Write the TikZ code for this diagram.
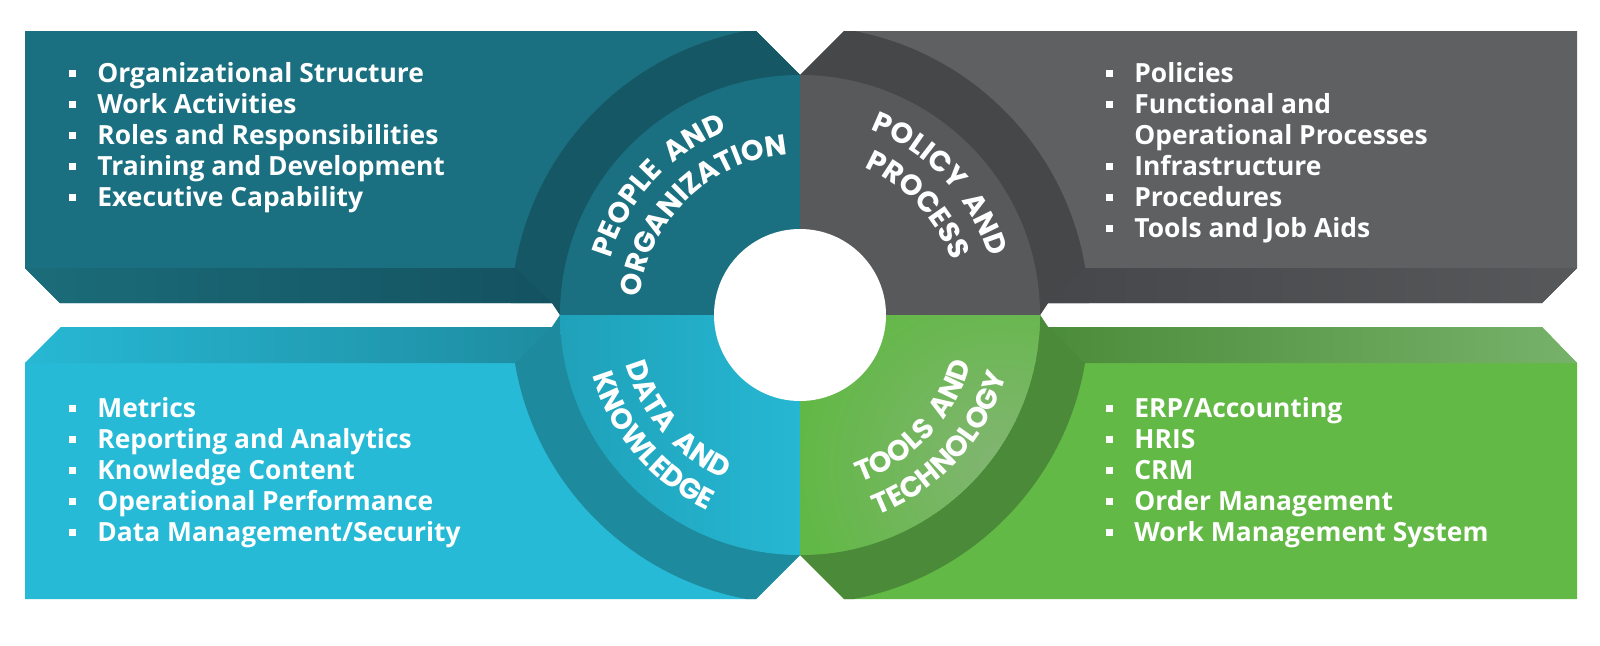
\documentclass[tikz,border=0pt]{standalone}
\usepackage{fontspec}
\usetikzlibrary{decorations.text}
\newfontfamily\listfont{Open Sans}
\newfontfamily\ringfont{Poppins}
\newcommand{\ringsize}{\ringfont\bfseries\fontsize{14.4}{17}\selectfont\fontdimen2\font=0.42em}
\newcommand{\bul}{\makebox[14pt][l]{\rule[2.5pt]{3.3pt}{3.3pt}}}

\definecolor{tealface}{HTML}{1A7080}
\definecolor{tealring}{HTML}{155765}
\definecolor{tealbevL}{HTML}{1B6C7A}
\definecolor{tealbevR}{HTML}{145260}
\definecolor{grayface}{HTML}{5F6062}
\definecolor{grayring}{HTML}{464749}
\definecolor{graydisc}{HTML}{58595B}
\definecolor{graybevL}{HTML}{46474A}
\definecolor{graybevR}{HTML}{57585A}
\definecolor{cyanface}{HTML}{26BAD6}
\definecolor{cyanring}{HTML}{1E8A9E}
\definecolor{cyandiscL}{HTML}{1FA1B9}
\definecolor{cyandiscR}{HTML}{26B7D3}
\definecolor{cyanbevL}{HTML}{27B8D4}
\definecolor{cyanbevR}{HTML}{1E8CA0}
\definecolor{greenface}{HTML}{63B946}
\definecolor{greenring}{HTML}{4A8A39}
\definecolor{greendisc}{HTML}{62B846}
\definecolor{greenhi}{HTML}{82B572}
\definecolor{greenbevL}{HTML}{4B8C3A}
\definecolor{greenbevR}{HTML}{77B26A}

\tikzset{
  listitem/.style={anchor=base west, inner sep=0pt, text=white,
    font=\listfont\bfseries\fontsize{13.2}{16}\selectfont},
  ringtext/.style={decorate, decoration={text along path, text align=center,
    text color=white, text={|\ringsize|#1}}}
}

\begin{document}
\begin{tikzpicture}[x=0.5pt, y=0.5pt]
  \useasboundingbox (0,0) rectangle (1600,645);
  \coordinate (c) at (800,330);

  \begin{scope}
    \clip (25,614) -- (756,614) -- (800,570) -- (800,330) -- (560,330) -- (552,342) -- (60,342) -- (25,377) -- cycle;
    \fill [tealface] (0,0) rectangle (800,645);
    \fill [tealring] (c) circle (289);
    \shade [left color=tealbevL, right color=tealbevR] (25,377) -- (515,377) -- (552,342) -- (60,342) -- cycle;
    \fill [tealface] (c) circle (240);
  \end{scope}

  \begin{scope}
    \clip (844,614) -- (1577,614) -- (1577,377) -- (1542,342) -- (1048,342) -- (1040,330) -- (800,330) -- (800,570) -- cycle;
    \fill [grayface] (800,0) rectangle (1600,645);
    \fill [grayring] (c) circle (289);
    \shade [left color=graybevL, right color=graybevR] (1085,377) -- (1577,377) -- (1542,342) -- (1048,342) -- cycle;
    \fill [graydisc] (c) circle (240);
  \end{scope}

  \begin{scope}
    \clip (25,282) -- (61,318) -- (552,318) -- (560,330) -- (800,330) -- (800,90) -- (756,46) -- (25,46) -- cycle;
    \fill [cyanface] (0,0) rectangle (800,645);
    \fill [cyanring] (c) circle (289);
    \shade [left color=cyanbevL, right color=cyanbevR] (61,318) -- (552,318) -- (515,282) -- (25,282) -- cycle;
    \clip (c) circle (240);
    \shade [left color=cyandiscL, right color=cyandiscR] (560,90) rectangle (800,330);
  \end{scope}

  \begin{scope}
    \clip (800,330) -- (1040,330) -- (1048,318) -- (1542,318) -- (1577,282) -- (1577,46) -- (844,46) -- (800,90) -- cycle;
    \fill [greenface] (800,0) rectangle (1600,645);
    \fill [greenring] (c) circle (289);
    \shade [left color=greenbevL, right color=greenbevR] (1048,318) -- (1542,318) -- (1577,282) -- (1085,282) -- cycle;
    \clip (c) circle (240);
    \fill [greendisc] (c) circle (240);
    \shade [inner color=greenhi, outer color=greendisc] (1000,180) circle (200);
  \end{scope}

  \fill [white] (c) circle (86);

  \path [ringtext={PEOPLE AND}] ([shift={(187.5:198)}]c) arc [start angle=187.5, end angle=87.5, radius=198];
  \path [ringtext={ORGANIZATION}] ([shift={(184:161)}]c) arc [start angle=184, end angle=84, radius=161];
  \path [ringtext={POLICY AND}] ([shift={(93:198)}]c) arc [start angle=93, end angle=-7, radius=198];
  \path [ringtext={PROCESS}] ([shift={(93:161)}]c) arc [start angle=93, end angle=-7, radius=161];
  \path [ringtext={DATA AND}] ([shift={(170.5:181)}]c) arc [start angle=170.5, end angle=270.5, radius=181];
  \path [ringtext={KNOWLEDGE}] ([shift={(170.5:216)}]c) arc [start angle=170.5, end angle=270.5, radius=216];
  \path [ringtext={TOOLS AND}] ([shift={(267:178)}]c) arc [start angle=267, end angle=367, radius=178];
  \path [ringtext={TECHNOLOGY}] ([shift={(267.5:215)}]c) arc [start angle=267.5, end angle=367.5, radius=215];

  \node [listitem] (po1) at (69,563) {\bul Organizational Structure};
  \node [listitem] (po2) at (69,532) {\bul Work Activities};
  \node [listitem] (po3) at (69,501) {\bul Roles and Responsibilities};
  \node [listitem] (po4) at (69,470) {\bul Training and Development};
  \node [listitem] (po5) at (69,439) {\bul Executive Capability};

  \node [listitem] (pp1) at (1106,563) {\bul Policies};
  \node [listitem] (pp2) at (1106,532) {\bul Functional and};
  \node [listitem] (pp3) at (1134,501) {Operational Processes};
  \node [listitem] (pp4) at (1106,470) {\bul Infrastructure};
  \node [listitem] (pp5) at (1106,439) {\bul Procedures};
  \node [listitem] (pp6) at (1106,408) {\bul Tools and Job Aids};

  \node [listitem] (dk1) at (69,228) {\bul Metrics};
  \node [listitem] (dk2) at (69,197) {\bul Reporting and Analytics};
  \node [listitem] (dk3) at (69,166) {\bul Knowledge Content};
  \node [listitem] (dk4) at (69,135) {\bul Operational Performance};
  \node [listitem] (dk5) at (69,104) {\bul Data Management/Security};

  \node [listitem] (tt1) at (1106,228) {\bul ERP/Accounting};
  \node [listitem] (tt2) at (1106,197) {\bul HRIS};
  \node [listitem] (tt3) at (1106,166) {\bul CRM};
  \node [listitem] (tt4) at (1106,135) {\bul Order Management};
  \node [listitem] (tt5) at (1106,104) {\bul Work Management System};
\end{tikzpicture}
\end{document}
